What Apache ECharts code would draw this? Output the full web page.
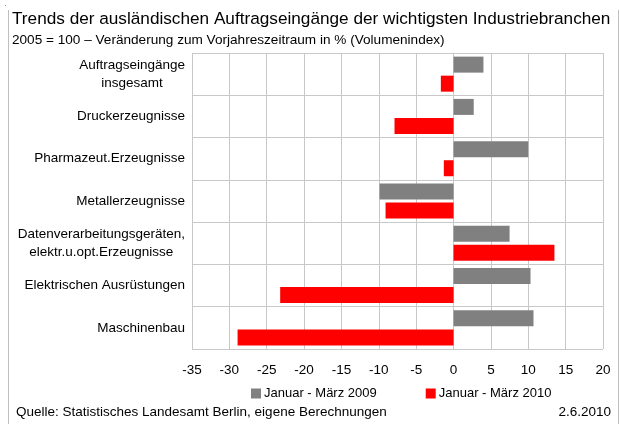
<!DOCTYPE html>
<html>
<head>
<meta charset="utf-8">
<script src="https://cdn.jsdelivr.net/npm/echarts@6/dist/echarts.min.js"></script>
<style>
html,body{margin:0;padding:0;background:#fff;}
#chart{width:620px;height:424px;}
</style>
</head>
<body>
<div id="chart"></div>
<script>
const categories = [
  "Auftragseingänge\ninsgesamt",
  "Druckerzeugnisse",
  "Pharmazeut.Erzeugnisse",
  "Metallerzeugnisse",
  "Datenverarbeitungsgeräten,\nelektr.u.opt.Erzeugnisse",
  "Elektrischen Ausrüstungen",
  "Maschinenbau"
];
const series2009Name = "Januar - März 2009";
const series2010Name = "Januar - März 2010";
const values2009 = [4.0, 2.7, 10.0, -9.9, 7.5, 10.3, 10.7];
const values2010 = [-1.7, -7.9, -1.3, -9.1, 13.5, -23.2, -28.9];
const xMin = -35, xMax = 20, xStep = 5;
const titleText = "Trends der ausländischen Auftragseingänge der wichtigsten Industriebranchen";
const subtitleText = "2005 = 100 – Veränderung zum Vorjahreszeitraum in % (Volumenindex)";
const sourceText = "Quelle: Statistisches Landesamt Berlin, eigene Berechnungen";
const dateText = "2.6.2010";

const FONT = "'Liberation Sans', Arial, sans-serif";
const chart = echarts.init(document.getElementById('chart'), null, {renderer: 'canvas'});
chart.setOption({
  animation: false,
  backgroundColor: '#fff',
  textStyle: {fontFamily: FONT},
  title: [
    {text: titleText, left: 12, top: 11, padding: 0,
     textStyle: {fontSize: 17.2, fontWeight: 'normal', color: '#000', fontFamily: FONT}},
    {text: subtitleText, left: 12, top: 33, padding: 0,
     textStyle: {fontSize: 13.6, fontWeight: 'normal', color: '#000', fontFamily: FONT}},
    {text: sourceText, left: 16, top: 405, padding: 0,
     textStyle: {fontSize: 13.5, fontWeight: 'normal', color: '#000', fontFamily: FONT}},
    {text: dateText, right: 9, top: 405, padding: 0,
     textStyle: {fontSize: 13.5, fontWeight: 'normal', color: '#000', fontFamily: FONT}}
  ],
  graphic: [
    {type: 'line', shape: {x1: 8.5, y1: 10, x2: 8.5, y2: 424}, style: {stroke: '#c0c0c0', lineWidth: 1}},
    {type: 'line', shape: {x1: 618.5, y1: 10, x2: 618.5, y2: 424}, style: {stroke: '#c0c0c0', lineWidth: 1}},
    {type: 'rect', shape: {x: 5, y: 5, width: 1, height: 1}, style: {fill: '#999'}}
  ],
  legend: {
    left: 251, top: 387, itemWidth: 10, itemHeight: 10, itemGap: 49,
    icon: 'rect', padding: 0,
    textStyle: {fontSize: 13, color: '#000', fontFamily: FONT, padding: [0, 0, 0, -2]},
    data: [series2009Name, series2010Name]
  },
  grid: {left: 192, right: 17, top: 53, bottom: 75, containLabel: false},
  xAxis: {
    type: 'value', min: xMin, max: xMax, interval: xStep,
    axisLine: {show: false}, axisTick: {show: false},
    axisLabel: {fontSize: 13.5, color: '#000', margin: 14, fontFamily: FONT},
    splitLine: {show: true, lineStyle: {color: '#c8c8c8', width: 1}}
  },
  yAxis: {
    type: 'category', data: categories, inverse: true,
    axisLine: {show: true, lineStyle: {color: '#c8c8c8', width: 1}},
    axisTick: {show: false},
    splitLine: {show: true, lineStyle: {color: '#c8c8c8', width: 1}},
    axisLabel: {
      margin: 7, align: 'right', color: '#000', fontSize: 13.5, fontFamily: FONT,
      formatter: function (v) { return v.split('\n').map(function (s) { return '{c|' + s + '}'; }).join('\n'); },
      rich: {c: {align: 'center', fontSize: 13.5, lineHeight: 18, color: '#000', fontFamily: FONT}}
    }
  },
  series: [
    {name: series2009Name, type: 'bar', data: values2009, itemStyle: {color: '#808080'},
     barWidth: 16, barGap: '19%', barCategoryGap: '17%'},
    {name: series2010Name, type: 'bar', data: values2010, itemStyle: {color: '#ff0000'},
     barWidth: 16, barGap: '19%', barCategoryGap: '17%'}
  ]
});
</script>
</body>
</html>
